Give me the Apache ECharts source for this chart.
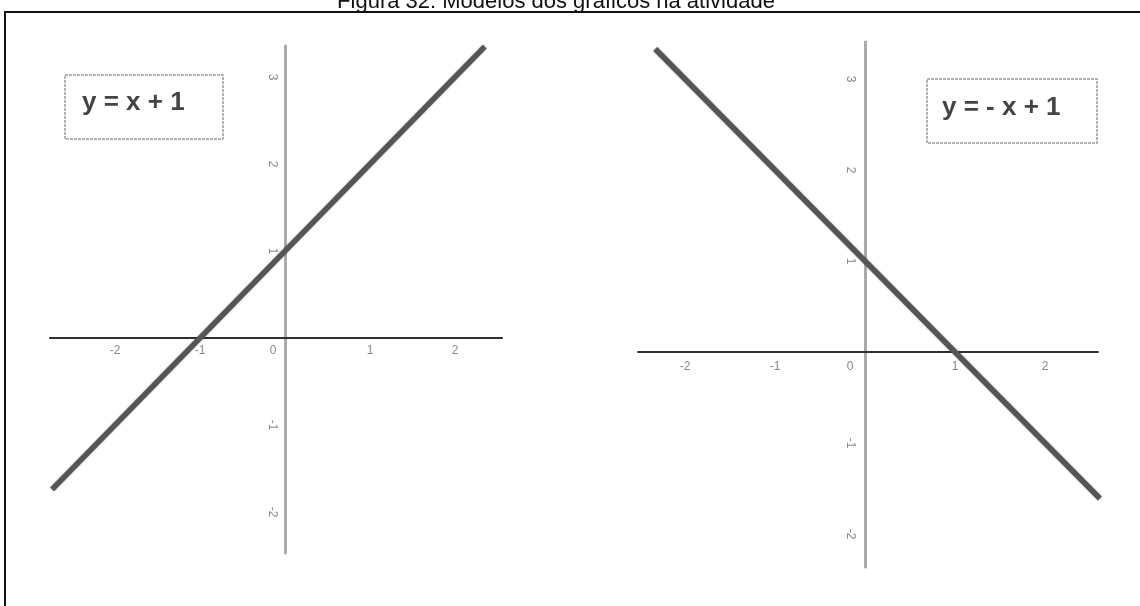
<!DOCTYPE html>
<html>
<head>
<meta charset="utf-8">
<title>Figura 32</title>
<script src="https://cdn.jsdelivr.net/npm/echarts@6/dist/echarts.min.js"></script>
<style>
  html, body { margin: 0; padding: 0; background: #fff; }
  #chart { width: 1140px; height: 606px; }
</style>
</head>
<body>
<div id="chart"></div>
<script>
// Two straight-line graphs: y = x + 1 and y = -x + 1
const titleText = 'Figura 32: Modelos dos gráficos na atividade';
const legendLeft = 'y = x + 1';
const legendRight = 'y = - x + 1';

// tick labels
const xTicks = [-2, -1, 0, 1, 2];
const yTicks = [-2, -1, 1, 2, 3];

// drawn segment endpoints [x, y]
const lineLeft = [[-2.74, -1.74], [2.35, 3.35]];
const lineRight = [[-2.33, 3.33], [2.61, -1.61]];

// axis extents
const leftXRange = [-2.765, 2.553];
const leftYRange = [-2.471, 3.368];
const rightXRange = [-2.522, 2.589];
const rightYRange = [-2.363, 3.407];

const chart = echarts.init(document.getElementById('chart'), null, { renderer: 'canvas' });

const labelFont = { color: '#888', fontSize: 12, fontFamily: 'Liberation Sans, Arial, sans-serif' };

// axes are shifted inward so that they cross at the origin
function xAxisFor(gridIndex, range, offset, margin, zeroShift) {
  return {
    type: 'value', gridIndex, min: range[0], max: range[1],
    position: 'bottom', offset,
    axisLine: { onZero: false, lineStyle: { color: '#2f2f2f', width: 2 } },
    axisTick: { show: false },
    splitLine: { show: false },
    axisLabel: Object.assign({
      customValues: xTicks, margin,
      formatter: v => v === 0 ? '{z|0}' : String(v),
      rich: { z: { padding: [0, zeroShift, 0, 0], color: '#888', fontSize: 12 } }
    }, labelFont)
  };
}
function yAxisFor(gridIndex, range, offset, margin) {
  return {
    type: 'value', gridIndex, min: range[0], max: range[1],
    position: 'left', offset,
    axisLine: { onZero: false, lineStyle: { color: '#a9a9a9', width: 3, type: [3, 1] } },
    axisTick: { show: false },
    splitLine: { show: false },
    axisLabel: Object.assign({ customValues: yTicks, margin, rotate: -90 }, labelFont)
  };
}

const lineStyle = {
  color: '#555', width: 5.5,
  shadowBlur: 2, shadowColor: 'rgba(0,0,0,0.35)'
};

const legendText = {
  fill: '#444', fontSize: 26, fontWeight: 'bold',
  fontFamily: 'Liberation Sans, Arial, sans-serif'
};

chart.setOption({
  animation: false,
  backgroundColor: '#ffffff',
  grid: [
    { left: 50, top: 45, width: 452, height: 508 },
    { left: 638, top: 42, width: 460, height: 525 }
  ],
  xAxis: [xAxisFor(0, leftXRange, -215, 7, 24), xAxisFor(1, rightXRange, -215, 9, 30)],
  yAxis: [yAxisFor(0, leftYRange, -235, 7), yAxisFor(1, rightYRange, -227, 9)],
  series: [
    { type: 'line', xAxisIndex: 0, yAxisIndex: 0, data: lineLeft, showSymbol: false,
      clip: false, lineStyle, z: 5 },
    { type: 'line', xAxisIndex: 1, yAxisIndex: 1, data: lineRight, showSymbol: false,
      clip: false, lineStyle, z: 5 }
  ],
  graphic: [
    { type: 'rect', shape: { x: 5, y: 12, width: 1300, height: 800 },
      style: { fill: 'none', stroke: '#111', lineWidth: 2 }, z: 10 },
    { type: 'text', x: 556, y: 13,
      style: { text: titleText, fill: '#111', fontSize: 22, align: 'center',
        verticalAlign: 'bottom', fontFamily: 'Liberation Sans, Arial, sans-serif' }, z: 10 },
    { type: 'rect', shape: { x: 65, y: 75, width: 158, height: 64 },
      style: { fill: '#fff', stroke: '#9a9a9a', lineWidth: 1.5, lineDash: [3, 1] }, z: 10 },
    { type: 'text', x: 82, y: 103,
      style: Object.assign({ text: legendLeft, verticalAlign: 'middle' }, legendText), z: 11 },
    { type: 'rect', shape: { x: 927, y: 79, width: 170, height: 64 },
      style: { fill: '#fff', stroke: '#9a9a9a', lineWidth: 1.5, lineDash: [3, 1] }, z: 10 },
    { type: 'text', x: 942, y: 108,
      style: Object.assign({ text: legendRight, verticalAlign: 'middle' }, legendText), z: 11 }
  ]
});
</script>
</body>
</html>
